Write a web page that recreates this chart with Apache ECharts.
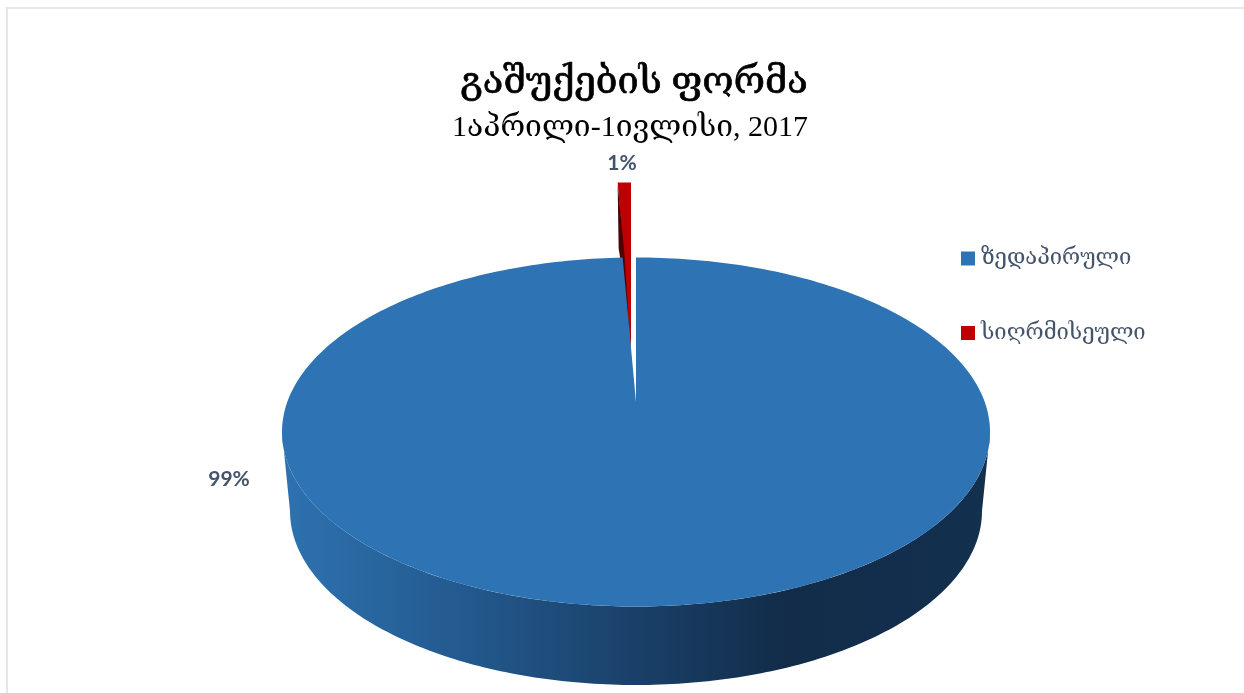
<!DOCTYPE html>
<html><head><meta charset="utf-8">
<style>html,body{margin:0;padding:0;background:#fff}#c{width:1244px;height:693px}</style>
<script src="https://cdn.jsdelivr.net/npm/echarts@6/dist/echarts.min.js"></script>
</head><body><div id="c"></div>
<script>
var categories = ['ზედაპირული', 'სიღრმისეული'];
var values = [99.4, 0.6];
var colors = ['#2e74b5', '#c00000'];
var titleText = 'გაშუქების ფორმა';
var subtitleText = '1აპრილი-1ივლისი, 2017';

var total = values.reduce(function (a, b) { return a + b; }, 0);
var top_ = { cx: 636, cy: 432, rx: 354, ry: 174.5 };
var base = { cx: 636, cy: 511, rx: 346, ry: 174 };
var apex = [636, 402];
var GEO = '"Liberation Serif","DejaVu Serif","DejaVu Sans",serif';

function pt(e, deg) {
  var t = deg * Math.PI / 180;
  return [e.cx + e.rx * Math.sin(t), e.cy - e.ry * Math.cos(t)];
}
function arc(e, a, b) {
  var out = [], n = Math.max(2, Math.ceil(Math.abs(b - a)));
  for (var i = 0; i <= n; i++) out.push(pt(e, a + (b - a) * i / n));
  return out;
}
function label(v, x, y) {
  return { type: 'text', style: { text: Math.round(v) + '%', x: x, y: y, align: 'center', verticalAlign: 'middle',
    fill: '#44546a', font: 'bold 21px Lato, "Open Sans", sans-serif' } };
}
function renderBlue(params, api) {
  var v = api.value(0), end = v / total * 360;
  var wallTop = arc(top_, 90, 270), wallBase = arc(base, 270, 90);
  return { type: 'group', children: [
    { type: 'polygon', shape: { points: wallTop.concat(wallBase) }, style: {
      fill: new echarts.graphic.LinearGradient(0, 0, 1, 0, [
        { offset: 0, color: '#2e72b1' }, { offset: 0.25, color: '#235a8f' }, { offset: 0.5, color: '#1a4069' },
        { offset: 0.71, color: '#122c49' }, { offset: 1, color: '#13304f' }]) } },
    { type: 'polygon', shape: { points: [apex].concat(arc(top_, 0, end)) }, style: { fill: colors[0] } },
    label(v, 229, 479)
  ] };
}
function renderRed(params, api) {
  var v = api.value(0), span = v / total * 360;
  var outer = { cx: top_.cx - 5, cy: top_.cy - 75, rx: top_.rx, ry: top_.ry };
  var tip = [631, 352];
  var a = arc(outer, -span, 0);
  var left = a[0];
  return { type: 'group', children: [
    { type: 'polygon', shape: { points: [tip].concat(a) }, style: { fill: colors[1] } },
    { type: 'polygon', shape: { points: [[left[0], left[1] + 2], [left[0] + 1, left[1] + 66], [left[0] + 4, left[1] + 85], tip, [left[0] + 6.5, left[1] + 68]] }, style: {
      fill: new echarts.graphic.LinearGradient(0, 0, 0, 1, [
        { offset: 0, color: '#400000' }, { offset: 0.5, color: '#550000' }, { offset: 1, color: '#700000' }]) } },
    label(v, 622, 163)
  ] };
}
var chart = echarts.init(document.getElementById('c'), null, { renderer: 'canvas' });
chart.setOption({
  animation: false,
  backgroundColor: '#ffffff',
  title: [
    { text: titleText, left: 629, top: 59, textAlign: 'center', textStyle: { fontFamily: GEO, fontSize: 38, fontWeight: 'normal', color: '#000', textBorderColor: '#000', textBorderWidth: 0.7 } },
    { text: subtitleText, left: 625, top: 108, textAlign: 'center', textStyle: { fontFamily: GEO, fontSize: 30, fontWeight: 'normal', color: '#000' } }
  ],
  legend: {
    data: categories, orient: 'vertical', left: 956, top: 242.5, itemWidth: 14, itemHeight: 14, itemGap: 52.5, icon: 'rect',
    textStyle: { fontFamily: GEO, fontSize: 22, color: '#44546a', lineHeight: 14, padding: [0, 0, 0, 1] }
  },
  graphic: [{ type: 'polyline', silent: true, shape: { points: [[7, 693], [7, 8], [1244, 8]] }, style: { stroke: '#e3e6ea', lineWidth: 2, fill: null } }],
  series: [
    { type: 'custom', name: categories[1], coordinateSystem: 'none', z: 2, data: [values[1]], renderItem: renderRed, itemStyle: { color: colors[1] } },
    { type: 'custom', name: categories[0], coordinateSystem: 'none', z: 3, data: [values[0]], renderItem: renderBlue, itemStyle: { color: colors[0] } }
  ]
});
</script></body></html>
